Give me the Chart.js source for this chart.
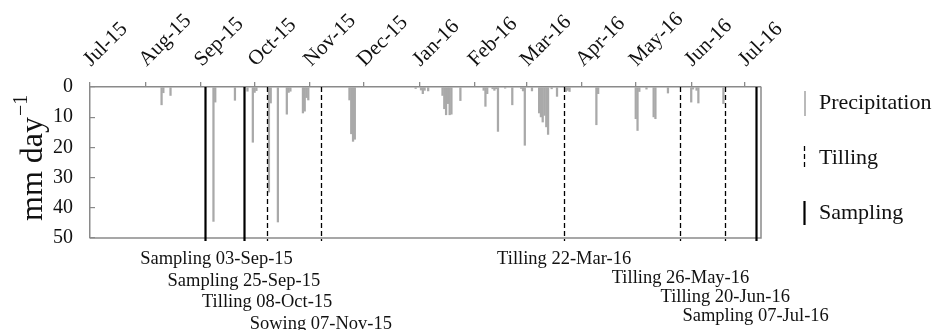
<!DOCTYPE html>
<html>
<head>
<meta charset="utf-8">
<script src="https://cdn.jsdelivr.net/npm/chart.js@4.4.0/dist/chart.umd.min.js"></script>
<style>
  html, body { margin: 0; padding: 0; background: #fff; }
</style>
</head>
<body>
<canvas id="chart" width="937" height="330"></canvas>
<script>
// days are counted from 01-Jul-15
const monthLabels = ['Jul-15', 'Aug-15', 'Sep-15', 'Oct-15', 'Nov-15', 'Dec-15',
  'Jan-16', 'Feb-16', 'Mar-16', 'Apr-16', 'May-16', 'Jun-16', 'Jul-16']
const monthStarts = [0, 31, 62, 92, 123, 153, 184, 215, 244, 275, 305, 336, 366]

const rainDays = [40, 41, 45, 69, 70, 81, 88, 91, 92, 93, 100, 101, 105, 110, 111, 112,
  119, 120, 121, 122, 145, 146, 147, 148, 182, 185, 186, 187, 189, 197, 198, 199, 200,
  201, 202, 207, 220, 221, 222, 225, 226, 227, 228, 232, 236, 241, 242, 243, 247, 251,
  252, 253, 254, 255, 256, 258, 261, 266, 267, 268, 283, 284, 305, 306, 307, 311, 315,
  316, 323, 336, 337, 339, 340, 354]
const rainMm = [5.9, 1.9, 2.8, 44.5, 5.0, 4.4, 1.4, 18.3, 1.8, 1.2, 34.8, 5.3, 44.7, 9.0,
  1.8, 1.4, 8.6, 8.0, 3.5, 4.3, 4.3, 15.5, 18.0, 17.3, 0.5, 1.0, 2.2, 1.1, 1.3, 2.8, 7.2,
  9.2, 5.5, 9.2, 9.0, 4.5, 1.1, 6.4, 2.2, 0.6, 1.1, 0.6, 14.7, 0.4, 5.9, 0.5, 1.3, 19.3,
  1.3, 8.6, 9.9, 11.6, 9.4, 13.2, 15.7, 0.6, 3.1, 1.5, 1.1, 1.5, 12.5, 2.2, 10.5, 14.4,
  1.5, 0.7, 9.9, 10.5, 2.0, 5.0, 0.7, 1.1, 5.3, 5.5]

const eventDays = [64, 86, 99, 129, 265, 330, 355, 372]
const eventKinds = ['Sampling', 'Sampling', 'Tilling', 'Tilling', 'Tilling', 'Tilling', 'Tilling', 'Sampling']
const eventLabels = ['Sampling 03-Sep-15', 'Sampling 25-Sep-15', 'Tilling 08-Oct-15', 'Sowing 07-Nov-15',
  'Tilling 22-Mar-16', 'Tilling 26-May-16', 'Tilling 20-Jun-16', 'Sampling 07-Jul-16']

const yTicks = [0, 10, 20, 30, 40, 50]
const legendItems = ['Precipitation', 'Tilling', 'Sampling']

const SERIF = '"Liberation Serif", "Times New Roman", serif'
const AXIS_GREY = '#8a8a8a'
const BAR_GREY = '#a9a9a9'

const drawEventLine = (ctx, x, y1, y2, kind) => {
  ctx.save()
  ctx.strokeStyle = '#000'
  if (kind === 'Tilling') {
    ctx.lineWidth = 1.3
    ctx.setLineDash([5, 3])
  } else {
    ctx.lineWidth = 2.2
  }
  ctx.beginPath()
  ctx.moveTo(x, y1)
  ctx.lineTo(x, y2)
  ctx.stroke()
  ctx.restore()
}

const extras = {
  id: 'extras',
  afterDatasetsDraw(chart) {
    const { ctx, chartArea: a, scales } = chart
    // frame on the right and bottom
    ctx.save()
    ctx.strokeStyle = AXIS_GREY
    ctx.lineWidth = 1.5
    ctx.beginPath()
    ctx.moveTo(a.right, a.top)
    ctx.lineTo(a.right, a.bottom)
    ctx.lineTo(a.left, a.bottom)
    ctx.stroke()
    ctx.restore()

    eventDays.forEach((d, i) => {
      const x = Math.round(scales.x.getPixelForValue(d)) + 0.5
      drawEventLine(ctx, x, a.top, a.bottom + 3, eventKinds[i])
    })
  },
  afterDraw(chart) {
    const { ctx, chartArea: a, scales } = chart

    // event captions under the plot
    ctx.save()
    ctx.font = '18.5px ' + SERIF
    ctx.fillStyle = '#111'
    ctx.textAlign = 'center'
    ctx.textBaseline = 'alphabetic'
    eventLabels.forEach((t, i) => {
      const row = i % 4
      const gap = i < 4 ? 21.5 : 19
      const dx = i === 0 ? 12 : 0
      const x = scales.x.getPixelForValue(eventDays[i]) + dx
      ctx.fillText(t, x, a.bottom + 26 + row * gap)
    })
    ctx.restore()

    // legend
    ctx.save()
    const lx = a.right + 44
    legendItems.forEach((t, i) => {
      const cy = a.top + 16 + i * 55
      if (i === 0) {
        ctx.strokeStyle = BAR_GREY
        ctx.lineWidth = 1.6
        ctx.beginPath()
        ctx.moveTo(lx, cy - 12)
        ctx.lineTo(lx, cy + 13)
        ctx.stroke()
      } else {
        drawEventLine(ctx, lx - 0.5, cy - 12, cy + 12, t)
      }
      ctx.font = '22px ' + SERIF
      ctx.fillStyle = '#111'
      ctx.textAlign = 'left'
      ctx.textBaseline = 'middle'
      ctx.fillText(t, lx + 14, cy)
    })
    ctx.restore()

    // y axis title with superscript
    ctx.save()
    ctx.translate(42, 221)
    ctx.rotate(-Math.PI / 2)
    ctx.fillStyle = '#111'
    ctx.textAlign = 'left'
    ctx.textBaseline = 'alphabetic'
    ctx.font = '32px ' + SERIF
    ctx.fillText('mm day', 0, 0)
    const w = ctx.measureText('mm day').width
    ctx.font = '20px ' + SERIF
    ctx.fillText('\u22121', w + 1, -15)
    ctx.restore()
  }
}

new Chart(document.getElementById('chart'), {
  type: 'bar',
  data: {
    datasets: [{
      label: 'Precipitation',
      data: rainDays.map((d, i) => ({ x: d, y: rainMm[i] })),
      backgroundColor: BAR_GREY,
      borderWidth: 0,
      barThickness: 1.6
    }]
  },
  options: {
    responsive: false,
    devicePixelRatio: 1,
    animation: false,
    layout: { padding: { left: 0, top: 0, right: 176, bottom: 92 } },
    plugins: {
      legend: { display: false },
      tooltip: { enabled: false }
    },
    scales: {
      x: {
        type: 'linear',
        position: 'top',
        min: 0,
        max: 375,
        offset: false,
        afterBuildTicks: (scale) => {
          scale.ticks = monthStarts.map(v => ({ value: v }))
        },
        afterFit: (scale) => { scale.height = 87 },
        ticks: {
          autoSkip: false,
          minRotation: 45,
          maxRotation: 45,
          padding: 10,
          labelOffset: 15,
          color: '#111',
          font: { family: SERIF, size: 21 },
          callback: (value, index) => monthLabels[index]
        },
        grid: {
          offset: false,
          drawOnChartArea: false,
          tickLength: 5,
          color: AXIS_GREY,
          lineWidth: 1.3
        },
        border: { color: AXIS_GREY, width: 1.5 }
      },
      y: {
        reverse: true,
        min: 0,
        max: 50,
        afterFit: (scale) => { scale.width = 90 },
        afterBuildTicks: (scale) => {
          const all = []
          for (let v = yTicks[0]; v <= yTicks[yTicks.length - 1]; v += 5) all.push({ value: v })
          scale.ticks = all
        },
        ticks: {
          padding: 22,
          color: '#111',
          font: { family: SERIF, size: 20 },
          callback: (value) => (yTicks.includes(value) ? String(value) : '')
        },
        grid: {
          drawOnChartArea: false,
          tickLength: -5,
          color: AXIS_GREY,
          lineWidth: 1.2
        },
        border: { color: AXIS_GREY, width: 1.5 }
      }
    }
  },
  plugins: [extras]
})
</script>
</body>
</html>
